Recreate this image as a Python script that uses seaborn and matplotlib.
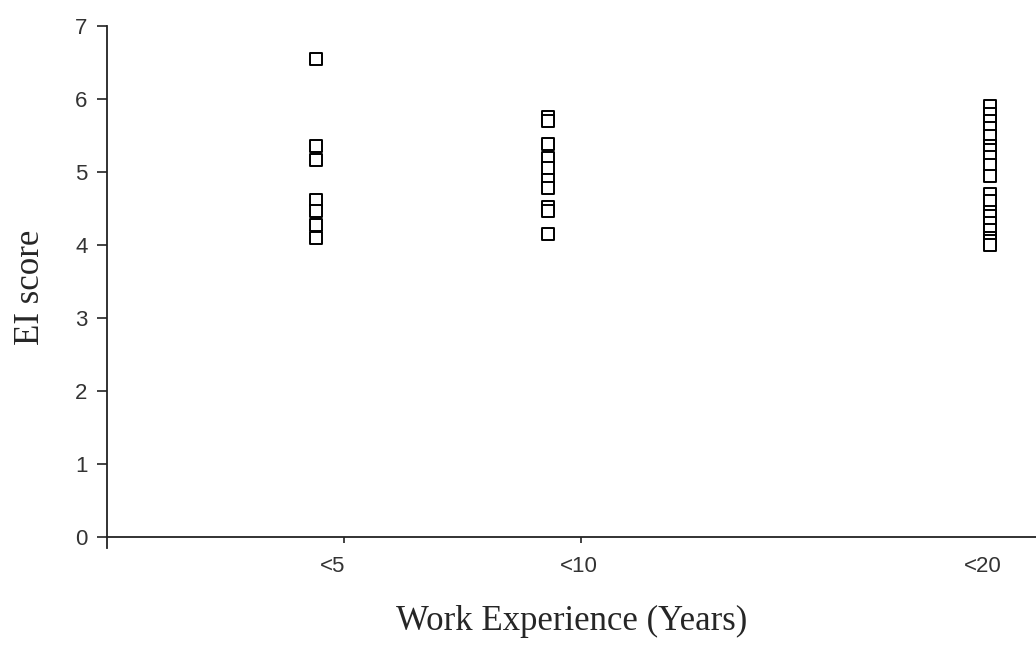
import pandas as pd
import matplotlib
matplotlib.use("Agg")
import matplotlib.pyplot as plt
import seaborn as sns

# EI scores, one list per experience group
group_labels = ["<5", "<10", "<20"]
group_x = [4.5, 9.5, 19.0]
scores_lt5 = [6.55, 5.35, 5.17, 4.62, 4.47, 4.27, 4.1]
scores_lt10 = [5.75, 5.7, 5.38, 5.19, 5.05, 4.89, 4.78, 4.52, 4.47, 4.15]
scores_lt20 = [5.9, 5.8, 5.7, 5.6, 5.5, 5.35, 5.3, 5.2, 5.1, 4.95,
               4.7, 4.6, 4.45, 4.4, 4.3, 4.2, 4.1, 4.05, 4.0]
y_ticks = [0, 1, 2, 3, 4, 5, 6, 7]

rows = []
for x, scores in zip(group_x, [scores_lt5, scores_lt10, scores_lt20]):
    for s in scores:
        rows.append({"Experience": x, "EI": s})
df = pd.DataFrame(rows)

sns.set_style("white")
fig = plt.figure(figsize=(10.36, 6.5), dpi=100)
ax = fig.add_axes([0.1033, 0.157, 0.8967, 0.803])

sns.scatterplot(data=df, x="Experience", y="EI", ax=ax, marker="s", s=75,
                facecolor="white", edgecolor="black", linewidth=1.4, legend=False)

ax.set_xlim(0, 20)
ax.set_ylim(-0.15, 7)
ax.spines["bottom"].set_position(("data", 0))
ax.spines["top"].set_visible(False)
ax.spines["right"].set_visible(False)
for sp in ["left", "bottom"]:
    ax.spines[sp].set_color("#222222")
    ax.spines[sp].set_linewidth(1.3)

# y axis
ax.set_yticks(y_ticks)
ax.tick_params(axis="y", left=True, direction="out", length=7, width=1.2,
               color="#222222", pad=7, labelsize=16, labelcolor="#333333")

# x axis: small tick marks plus category labels
ax.set_xticks([5.1, 10.2])
ax.set_xticklabels(["", ""])
ax.tick_params(axis="x", which="major", bottom=True, direction="out", length=4,
               width=1.2, color="#222222")
ax.set_xticks([4.85, 10.15, 18.85], minor=True)
ax.set_xticklabels(group_labels, minor=True)
ax.tick_params(axis="x", which="minor", bottom=True, length=0, pad=14,
               labelsize=16, labelcolor="#333333")

for lab in ax.get_yticklabels() + ax.get_xticklabels(minor=True):
    lab.set_fontfamily("Liberation Sans")

ax.set_xlabel("Work Experience (Years)", fontsize=25, family="Liberation Serif",
              labelpad=20)
ax.set_ylabel("EI score", fontsize=25, family="Liberation Serif", labelpad=20)

fig.savefig("out.png", dpi=100)
